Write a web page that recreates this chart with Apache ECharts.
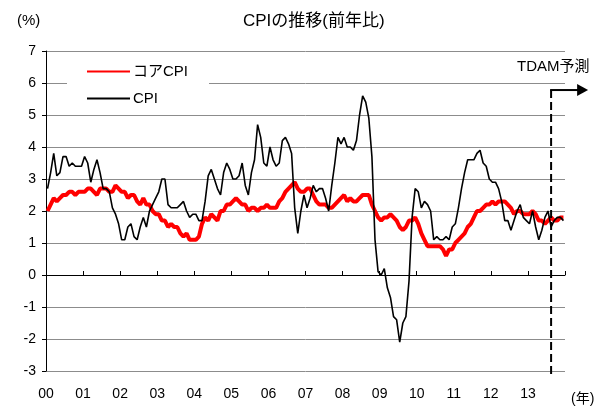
<!DOCTYPE html>
<html>
<head>
<meta charset="utf-8">
<script src="https://cdn.jsdelivr.net/npm/echarts@6/dist/echarts.min.js"></script>
<style>
  html, body { margin: 0; padding: 0; background: #fff; }
  #chart { width: 604px; height: 408px; }
</style>
</head>
<body>
<div id="chart"></div>
<script>
// 年ラベル（2000年〜2013年）
const yearLabels = ['00', '01', '02', '03', '04', '05', '06', '07', '08', '09', '10', '11', '12', '13']

// CPI 前年比（月次、2000/1〜2013/12、13/9以降は予測）
const cpi = [
  2.7, 3.2, 3.8, 3.1, 3.2, 3.7, 3.7, 3.4, 3.5, 3.4, 3.4, 3.4,
  3.7, 3.5, 2.9, 3.3, 3.6, 3.2, 2.7, 2.7, 2.6, 2.1, 1.9, 1.6,
  1.1, 1.1, 1.5, 1.6, 1.2, 1.1, 1.5, 1.8, 1.5, 2.0, 2.2, 2.4,
  2.6, 3.0, 3.0, 2.2, 2.1, 2.1, 2.1, 2.2, 2.3, 2.0, 1.8, 1.9,
  1.9, 1.7, 1.7, 2.3, 3.1, 3.3, 3.0, 2.7, 2.5, 3.2, 3.5, 3.3,
  3.0, 3.0, 3.1, 3.5, 2.8, 2.5, 3.2, 3.6, 4.7, 4.3, 3.5, 3.4,
  4.0, 3.6, 3.4, 3.5, 4.2, 4.3, 4.1, 3.8, 2.1, 1.3, 2.0, 2.5,
  2.1, 2.4, 2.8, 2.6, 2.7, 2.7, 2.4, 2.0, 2.8, 3.5, 4.3, 4.1,
  4.3, 4.0, 4.0, 3.9, 4.2, 5.0, 5.6, 5.4, 4.9, 3.7, 1.1, 0.1,
  0.0, 0.2, -0.4, -0.7, -1.3, -1.4, -2.1, -1.5, -1.3, -0.2, 1.8, 2.7,
  2.6, 2.1, 2.3, 2.2, 2.0, 1.1, 1.2, 1.1, 1.1, 1.2, 1.1, 1.5,
  1.6, 2.1, 2.7, 3.2, 3.6, 3.6, 3.6, 3.8, 3.9, 3.5, 3.4, 3.0,
  2.9, 2.9, 2.7, 2.3, 1.7, 1.7, 1.4, 1.7, 2.0, 2.2, 1.8, 1.7,
  1.6, 2.0, 1.5, 1.1, 1.4, 1.8, 2.0, 1.5, 1.7, 1.8, 1.8, 1.7
]

// コアCPI 前年比
const coreCpi = [
  2.0, 2.2, 2.4, 2.3, 2.4, 2.5, 2.5, 2.6, 2.6, 2.5, 2.6, 2.6,
  2.6, 2.7, 2.7, 2.6, 2.5, 2.7, 2.7, 2.7, 2.6, 2.6, 2.8, 2.7,
  2.6, 2.6, 2.4, 2.5, 2.5, 2.3, 2.2, 2.4, 2.2, 2.2, 2.0, 1.9,
  1.9, 1.7, 1.7, 1.5, 1.6, 1.5, 1.5, 1.3, 1.2, 1.3, 1.1, 1.1,
  1.1, 1.2, 1.6, 1.8, 1.7, 1.9, 1.8, 1.7, 2.0, 2.0, 2.2, 2.2,
  2.3, 2.4, 2.3, 2.2, 2.2, 2.0, 2.1, 2.1, 2.0, 2.1, 2.1, 2.2,
  2.1, 2.1, 2.1, 2.3, 2.4, 2.6, 2.7, 2.8, 2.9, 2.7, 2.6, 2.6,
  2.7, 2.7, 2.5, 2.3, 2.2, 2.2, 2.2, 2.1, 2.1, 2.2, 2.3, 2.4,
  2.5, 2.3, 2.4, 2.3, 2.3, 2.4, 2.5, 2.5, 2.5, 2.2, 2.0, 1.8,
  1.7, 1.8, 1.8, 1.9, 1.8, 1.7, 1.5, 1.4, 1.5, 1.7, 1.7, 1.8,
  1.6, 1.3, 1.1, 0.9, 0.9, 0.9, 0.9, 0.9, 0.8, 0.6, 0.8, 0.8,
  1.0, 1.1, 1.2, 1.3, 1.5, 1.6, 1.8, 2.0, 2.0, 2.1, 2.2, 2.2,
  2.3, 2.2, 2.3, 2.3, 2.3, 2.2, 2.1, 1.9, 2.0, 2.0, 1.9, 1.9,
  1.9, 2.0, 1.9, 1.7, 1.7, 1.6, 1.7, 1.8, 1.7, 1.7, 1.8, 1.8
]

// 予測開始（2013年8月）と矢印の高さ
const forecastStart = 163.5
const arrowLevel = 5.78

const latin = "'Liberation Sans', 'Noto Sans CJK JP', sans-serif"
const months = yearLabels.length * 12

// 月次データを[月位置, 値]に
const toPoints = (list) => list.map((v, i) => [i + 0.5, v])

const chart = echarts.init(document.getElementById('chart'))

const options = {
  animation: false,
  textStyle: { fontFamily: latin, color: '#000' },
  title: [
    {
      text: 'CPIの推移(前年比)',
      left: 238,
      top: 8,
      textStyle: { fontSize: 17, fontWeight: 'normal', color: '#000', fontFamily: latin }
    },
    {
      text: '(%)',
      left: 12,
      top: 8,
      textStyle: { fontSize: 15, fontWeight: 'normal', color: '#000', fontFamily: latin }
    },
    {
      text: '(年)',
      left: 566,
      top: 387,
      textStyle: { fontSize: 14, fontWeight: 'normal', color: '#000', fontFamily: latin }
    },
    {
      text: 'TDAM予測',
      left: 512,
      top: 54,
      textStyle: { fontSize: 15, fontWeight: 'normal', color: '#000', fontFamily: latin }
    }
  ],
  legend: {
    data: ['コアCPI', 'CPI'],
    orient: 'vertical',
    left: 67,
    top: 58,
    padding: [6, 21, 6, 19],
    itemGap: 12,
    itemWidth: 43,
    itemHeight: 14,
    backgroundColor: '#fff',
    // 線だけを表示（マーカーは隠す）
    itemStyle: { opacity: 0 },
    textStyle: { fontSize: 15, color: '#000', fontFamily: latin, padding: [0, 0, 0, -2] }
  },
  grid: { left: 46, right: 39, top: 51, bottom: 37 },
  xAxis: [
    {
      type: 'value',
      min: 0,
      max: months,
      interval: 12,
      axisLine: { onZero: true, lineStyle: { color: '#000', width: 1 } },
      axisTick: { show: true, inside: true, length: 4, lineStyle: { color: '#000' } },
      axisLabel: { show: false },
      splitLine: { show: false }
    },
    {
      type: 'value',
      position: 'bottom',
      min: 0,
      max: months,
      interval: 12,
      axisLine: { show: false, onZero: false },
      axisTick: { show: false },
      axisLabel: {
        margin: 16,
        fontSize: 14,
        color: '#000',
        formatter: (v) => (v < months ? yearLabels[v / 12] : '')
      },
      splitLine: { show: false }
    }
  ],
  yAxis: {
    type: 'value',
    min: -3,
    max: 7,
    interval: 1,
    axisLine: { show: true, lineStyle: { color: '#000', width: 1 } },
    axisTick: { show: true, length: 4, lineStyle: { color: '#000' } },
    axisLabel: { margin: 10, fontSize: 14, color: '#000' },
    splitLine: { lineStyle: { color: '#8c8c8c', width: 1 } }
  },
  series: [
    {
      name: 'コアCPI',
      type: 'line',
      data: toPoints(coreCpi),
      showSymbol: false,
      symbol: 'none',
      lineStyle: { color: '#ff0000', width: 4 },
      itemStyle: { color: '#ff0000' },
      z: 2
    },
    {
      name: 'CPI',
      type: 'line',
      data: toPoints(cpi),
      showSymbol: false,
      symbol: 'none',
      lineStyle: { color: '#000', width: 1.6 },
      itemStyle: { color: '#000' },
      z: 3
    }
  ]
}

chart.setOption(options)

// 予測区間の破線と矢印
const fx = chart.convertToPixel({ xAxisIndex: 0 }, forecastStart)
const fy = chart.convertToPixel({ yAxisIndex: 0 }, arrowLevel)
const bottomY = chart.convertToPixel({ yAxisIndex: 0 }, -3) + 4

chart.setOption({
  graphic: [
    {
      type: 'line',
      shape: { x1: fx, y1: fy, x2: fx, y2: bottomY },
      style: { stroke: '#000', lineWidth: 2, lineDash: [8, 4] },
      z: 10
    },
    {
      type: 'line',
      shape: { x1: fx - 1, y1: fy, x2: fx + 28, y2: fy },
      style: { stroke: '#000', lineWidth: 2 },
      z: 10
    },
    {
      type: 'polygon',
      shape: { points: [[fx + 26, fy - 6], [fx + 37, fy], [fx + 26, fy + 6]] },
      style: { fill: '#000' },
      z: 10
    }
  ]
})
</script>
</body>
</html>
